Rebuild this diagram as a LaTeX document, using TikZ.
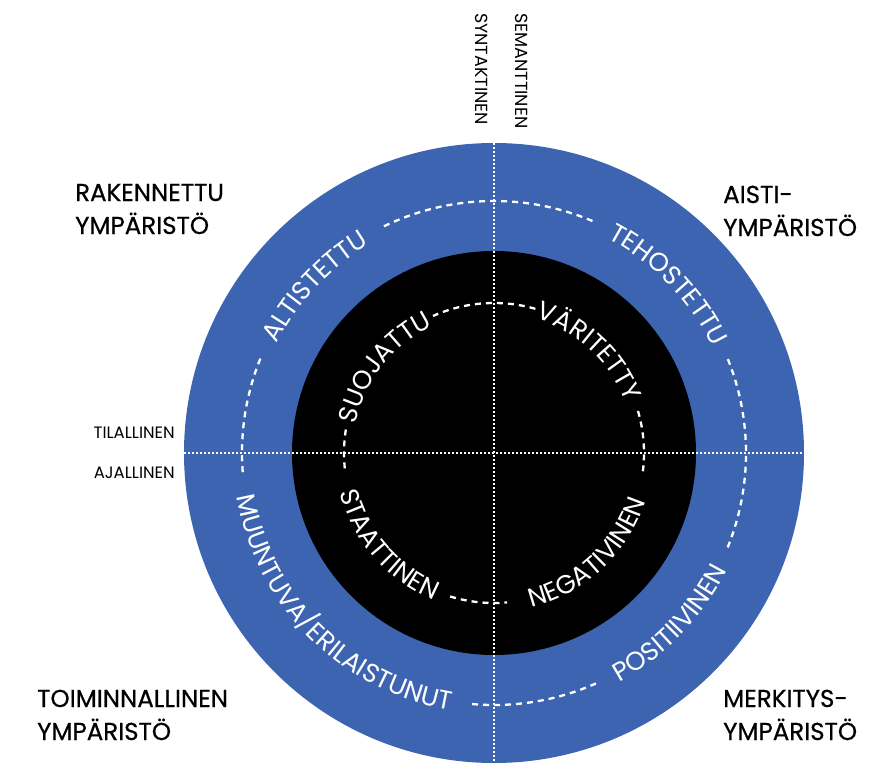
\documentclass[tikz,border=0pt]{standalone}
\usepackage{fontspec}
\setmainfont{Poppins}
\newfontfamily\cornerface[FakeBold=0.6]{Poppins}
\usetikzlibrary{decorations.text}
\definecolor{ringblue}{RGB}{61,100,176}
\newcommand{\ringfont}{\fontsize{26}{26}\selectfont}
\newcommand{\cornerfont}{\cornerface\fontsize{24.5}{33}\selectfont}
\newcommand{\axisfont}{\fontsize{16.5}{16.5}\selectfont}
\newcommand{\vaxisfont}{\fontsize{17.5}{17.5}\selectfont}

\begin{document}
\begin{tikzpicture}[x=1pt,y=1pt,
  dotline/.style={white,line width=2.2pt,dash pattern=on 2pt off 2pt},
  dashring/.style={white,line width=2.3pt,dash pattern=on 6pt off 5pt},
  cornerlabel/.style={font=\cornerfont,align=left,anchor=base west,inner sep=0pt},
  axislabel/.style={font=\axisfont,inner sep=0pt},
  ringtext/.style={decorate,decoration={text along path,text={|\ringfont|#1},text align=center,text color=white}}]
  \useasboundingbox (-494,-313) rectangle (396,453);

  \node [circle,fill=ringblue,minimum size=620pt,inner sep=0pt] (outer) at (0,0) {};
  \node [circle,fill=black,minimum size=404pt,inner sep=0pt] (inner) at (0,0) {};

  \draw[dotline] (outer.north) -- (outer.south);
  \draw[dotline] (outer.west) -- (outer.east);

  % outer ring
  \draw[dashring] (158:252) arc[start angle=158,end angle=185,radius=252];
  \draw[dashring] (265:252) arc[start angle=265,end angle=295,radius=252];
  \draw[dashring] (338:252) arc[start angle=338,end angle=382,radius=252];
  \draw[dashring] (67:252) arc[start angle=67,end angle=116,radius=252];
  % inner ring
  \draw[dashring] (171:150) arc[start angle=171,end angle=187,radius=150];
  \draw[dashring] (253:150) arc[start angle=253,end angle=275,radius=150];
  \draw[dashring] (353:150) arc[start angle=353,end angle=378,radius=150];
  \draw[dashring] (74:150) arc[start angle=74,end angle=114,radius=150];

  \path[ringtext=ALTISTETTU] (192:243) arc[start angle=192,end angle=82,radius=243];
  \path[ringtext=TEHOSTETTU] (99:243) arc[start angle=99,end angle=-11,radius=243];
  \path[ringtext=SUOJATTU] (197:141) arc[start angle=197,end angle=87,radius=141];
  \path[ringtext=VÄRITETTY] (102:141) arc[start angle=102,end angle=-8,radius=141];
  \path[ringtext=STAATTINEN] (166:159) arc[start angle=166,end angle=276,radius=159];
  \path[ringtext=NEGATIVINEN] (258:159) arc[start angle=258,end angle=368,radius=159];
  \path[ringtext=MUUNTUVA/ERILAISTUNUT] (165:261) arc[start angle=165,end angle=285,radius=261];
  \path[ringtext=POSITIIVINEN] (261:261) arc[start angle=261,end angle=371,radius=261];

  \node [cornerlabel] (rak) at (-419,219) {RAKENNETTU\\YMPÄRISTÖ};
  \node [cornerlabel] (ais) at (229,217) {AISTI-\\YMPÄRISTÖ};
  \node [cornerlabel] (toi) at (-457,-287) {TOIMINNALLINEN\\YMPÄRISTÖ};
  \node [cornerlabel] (mer) at (229,-287) {MERKITYS-\\YMPÄRISTÖ};

  \node [axislabel,anchor=base east] (til) at (-319,15) {TILALLINEN};
  \node [axislabel,anchor=base east] (aja) at (-319,-25) {AJALLINEN};
  \node [axislabel,font=\vaxisfont,rotate=-90,anchor=west] (syn) at (-12,440) {SYNTAKTINEN};
  \node [axislabel,font=\vaxisfont,rotate=-90,anchor=west] (sem) at (28,440) {SEMANTTINEN};
\end{tikzpicture}
\end{document}
